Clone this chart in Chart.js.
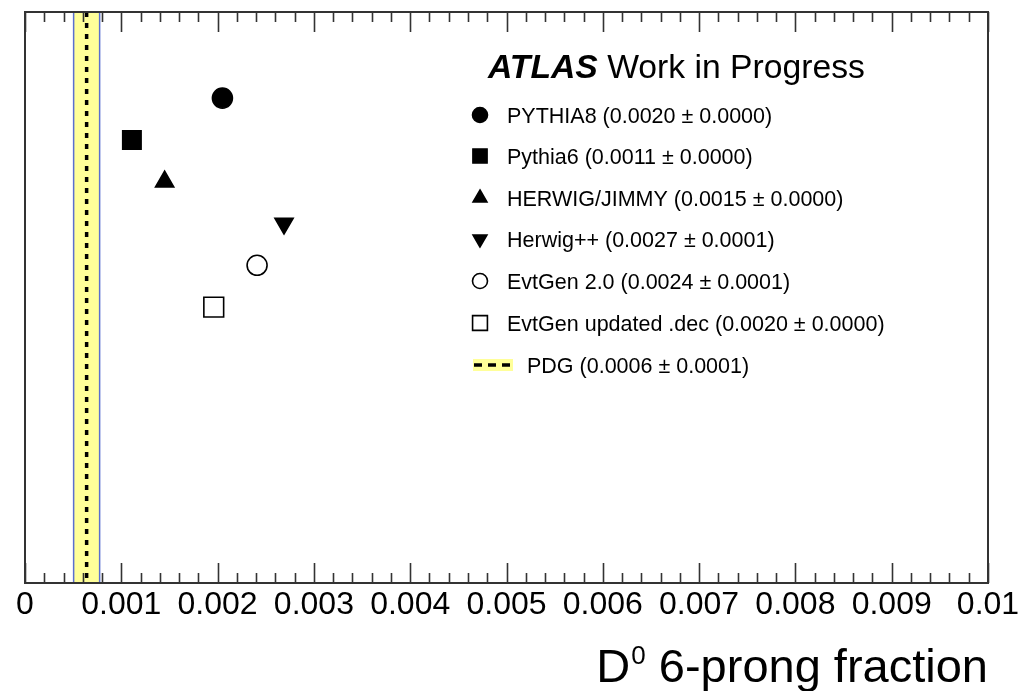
<!DOCTYPE html>
<html><head><meta charset="utf-8">
<script src="https://cdn.jsdelivr.net/npm/chart.js@4.4.0/dist/chart.umd.min.js"></script>
<style>html,body{margin:0;padding:0;background:#fff}canvas{display:block}</style>
</head><body>
<canvas id="c" width="1023" height="691"></canvas>
<script>
// ---- data ----
const generators = ['PYTHIA8', 'Pythia6', 'HERWIG/JIMMY', 'Herwig++', 'EvtGen 2.0', 'EvtGen updated .dec'];
const fractions = [0.00205, 0.00111, 0.00145, 0.00269, 0.00241, 0.00196];
const rows = [1, 2, 3, 4, 5, 6];
const legendValues = ['0.0020', '0.0011', '0.0015', '0.0027', '0.0024', '0.0020'];
const legendErrors = ['0.0000', '0.0000', '0.0000', '0.0001', '0.0001', '0.0000'];
const pdgValue = 0.00064;
const pdgError = 0.000135;
const pdgLegend = ['0.0006', '0.0001'];
const xTicks = [0, 0.001, 0.002, 0.003, 0.004, 0.005, 0.006, 0.007, 0.008, 0.009, 0.01];
const xMin = 0, xMax = 0.01;
const yMin = -1.06, yMax = 12.6;

// ---- styles ----
const FONT = "'Liberation Sans', Arial, Helvetica, sans-serif";
const styles = [
  {pointStyle: 'circle', radius: 10, rotation: 0, fill: '#000', legendRadius: 7.5},
  {pointStyle: 'rect', radius: 13, rotation: 0, fill: '#000', legendRadius: 10},
  {pointStyle: 'triangle', radius: 10.5, rotation: 0, fill: '#000', legendRadius: 8},
  {pointStyle: 'triangle', radius: 10.5, rotation: 180, fill: '#000', legendRadius: 8},
  {pointStyle: 'circle', radius: 10, rotation: 0, fill: 'rgba(0,0,0,0)', legendRadius: 7.5},
  {pointStyle: 'rect', radius: 14, rotation: 0, fill: 'rgba(0,0,0,0)', legendRadius: 10.5}
];

const datasets = [];
generators.forEach((g, i) => {
  const s = styles[i];
  datasets.push({
    type: 'scatter', label: g, order: 0,
    data: [{x: fractions[i], y: rows[i]}],
    pointStyle: s.pointStyle, pointRadius: s.radius, pointRotation: s.rotation,
    backgroundColor: s.fill, borderColor: '#000', borderWidth: 1.6,
    pointHoverRadius: s.radius
  });
});
datasets.push({type: 'line', label: 'PDG', order: 1,
  data: [{x: pdgValue, y: yMin}, {x: pdgValue, y: yMax}],
  borderColor: '#000', borderWidth: 3.5, borderDash: [5, 6], pointRadius: 0, fill: false});
datasets.push({type: 'line', label: 'edgeL', order: 2,
  data: [{x: pdgValue - pdgError, y: yMin}, {x: pdgValue - pdgError, y: yMax}],
  borderColor: '#5a6fd0', borderWidth: 1.5, pointRadius: 0, fill: false});
datasets.push({type: 'line', label: 'edgeR', order: 2,
  data: [{x: pdgValue + pdgError, y: yMin}, {x: pdgValue + pdgError, y: yMax}],
  borderColor: '#5a6fd0', borderWidth: 1.5, pointRadius: 0, fill: false});
datasets.push({type: 'line', label: 'band', order: 3,
  data: [{x: pdgValue - pdgError, y: yMax}, {x: pdgValue + pdgError, y: yMax}],
  borderWidth: 0, borderColor: 'rgba(0,0,0,0)', pointRadius: 0,
  backgroundColor: '#ffff99', fill: 'end'});

function drawMarker(ctx, style, x, y, r) {
  ctx.save();
  ctx.fillStyle = style.fill;
  ctx.strokeStyle = '#000';
  ctx.lineWidth = 1.6;
  if (Chart.helpers && Chart.helpers.drawPoint) {
    Chart.helpers.drawPoint(ctx, {pointStyle: style.pointStyle, radius: r, rotation: style.rotation, borderWidth: 1.6}, x, y);
  }
  ctx.restore();
}

const decor = {
  id: 'decor',
  afterDraw(chart) {
    const ctx = chart.ctx;
    const a = chart.chartArea;
    const xs = chart.scales.x;
    ctx.save();
    ctx.strokeStyle = '#333';
    ctx.lineWidth = 1.6;
    for (let k = 0; k <= 50; k++) {
      const v = xMin + k * (xMax - xMin) / 50;
      const px = Math.round(xs.getPixelForValue(v)) + 0.5;
      const len = (k % 5 === 0) ? 20 : 10;
      ctx.beginPath();
      ctx.moveTo(px, a.bottom); ctx.lineTo(px, a.bottom - len);
      ctx.moveTo(px, a.top); ctx.lineTo(px, a.top + len);
      ctx.stroke();
    }
    ctx.lineWidth = 2;
    ctx.strokeRect(a.left, a.top, a.right - a.left, a.bottom - a.top);

    ctx.fillStyle = '#000';
    ctx.textBaseline = 'alphabetic';
    ctx.textAlign = 'left';
    ctx.font = 'italic bold 33.7px ' + FONT;
    ctx.fillText('ATLAS', 488, 78);
    const w = ctx.measureText('ATLAS ').width;
    ctx.font = '33.7px ' + FONT;
    ctx.fillText('Work in Progress', 488 + w, 78);

    const rowY = [115, 156, 198, 239, 281, 323, 365];
    ctx.font = '21.5px ' + FONT;
    generators.forEach((g, i) => {
      drawMarker(ctx, styles[i], 480, rowY[i], styles[i].legendRadius);
      ctx.fillStyle = '#000';
      ctx.fillText(g + ' (' + legendValues[i] + ' \u00b1 ' + legendErrors[i] + ')', 507, rowY[i] + 7.5);
    });
    const py = rowY[6];
    ctx.fillStyle = '#ffff99';
    ctx.fillRect(473, py - 6, 40, 12);
    ctx.strokeStyle = '#000';
    ctx.lineWidth = 3.5;
    ctx.setLineDash([8, 6]);
    ctx.beginPath(); ctx.moveTo(474, py); ctx.lineTo(513, py); ctx.stroke();
    ctx.setLineDash([]);
    ctx.fillStyle = '#000';
    ctx.fillText('PDG (' + pdgLegend[0] + ' \u00b1 ' + pdgLegend[1] + ')', 527, py + 7.5);

    ctx.textAlign = 'right';
    ctx.font = '47px ' + FONT;
    const rest = ' 6-prong fraction';
    ctx.fillText(rest, a.right, 682);
    const rw = ctx.measureText(rest).width;
    ctx.font = '26px ' + FONT;
    ctx.fillText('0', a.right - rw, 664);
    const zw = ctx.measureText('0').width;
    ctx.font = '47px ' + FONT;
    ctx.fillText('D', a.right - rw - zw - 1, 682);
    ctx.restore();
  }
};

new Chart(document.getElementById('c'), {
  type: 'scatter',
  data: {datasets},
  options: {
    responsive: false, animation: false, devicePixelRatio: 1,
    layout: {autoPadding: false, padding: {left: 25, right: 35, top: 12, bottom: 0}},
    plugins: {legend: {display: false}, tooltip: {enabled: false}},
    events: [],
    scales: {
      x: {
        type: 'linear', min: xMin, max: xMax, position: 'bottom',
        afterBuildTicks: s => { s.ticks = xTicks.map(v => ({value: v})); },
        afterFit: s => { s.height = 108; },
        grid: {display: false, drawTicks: false},
        border: {display: false},
        ticks: {
          autoSkip: false, maxRotation: 0, minRotation: 0, padding: 3,
          color: '#000', font: {family: FONT, size: 32},
          callback: v => (v === 0 ? '0' : String(Number(v.toFixed(4))))
        }
      },
      y: {type: 'linear', min: yMin, max: yMax, reverse: true, display: false}
    }
  },
  plugins: [decor]
});
</script>
</body></html>
